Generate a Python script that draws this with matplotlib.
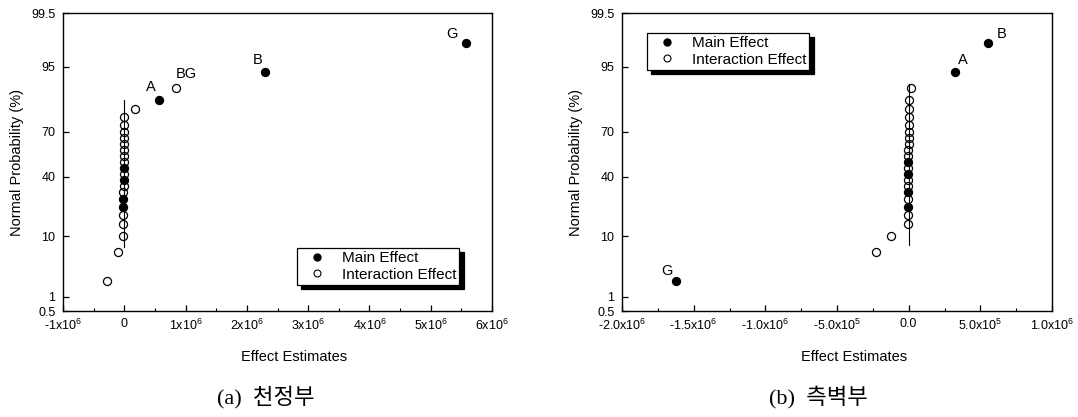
import math
import numpy as np
import matplotlib
matplotlib.use("Agg")
import matplotlib.pyplot as plt
from matplotlib.ticker import FixedLocator, NullLocator
from matplotlib.lines import Line2D

plt.rcParams['font.family'] = ['Liberation Sans', 'DejaVu Sans']
plt.rcParams['mathtext.fontset'] = 'custom'
plt.rcParams['mathtext.rm'] = 'Liberation Sans'
plt.rcParams['mathtext.it'] = 'Liberation Sans:italic'

# ---------------- data ----------------
# (a) 천정부 : effect estimates (sorted), normal probability (%), kind, label
a_effects = [-0.29e6, -0.11e6,
             -0.02e6, -0.02e6, -0.02e6, -0.015e6, -0.015e6, -0.015e6, -0.012e6, -0.012e6, -0.01e6,
             -0.01e6, -0.01e6, -0.008e6, -0.008e6, -0.006e6, -0.005e6, -0.004e6, -0.003e6, -0.002e6,
             0.17e6, 0.56e6, 0.84e6, 2.30e6, 5.57e6]
a_prob = [2, 6, 10, 14, 18, 22, 26, 30, 34, 38, 42, 46, 50, 54, 58, 62, 66, 70, 74, 78,
          82, 86, 90, 94, 98]
a_main = [0, 0, 0, 0, 0, 1, 1, 0, 0, 1, 0, 1, 0, 0, 0, 0, 0, 0, 0, 0,
          0, 1, 0, 1, 1]
a_labels = {21: "A", 22: "BG", 23: "B", 24: "G"}
a_label_offsets = {21: (-8, 13), 22: (11, 14), 23: (-8, 12), 24: (-14, 9)}
a_ref_line = (7, 86)

# (b) 측벽부
b_effects = [-1.62e6, -0.23e6, -0.125e6,
             -0.004e6, -0.004e6, -0.004e6, -0.004e6, -0.003e6, -0.003e6, -0.003e6, -0.003e6, -0.002e6,
             -0.002e6, -0.002e6, -0.002e6, -0.001e6, -0.001e6, -0.001e6, -0.001e6, -0.001e6, 0.0,
             0.0, 0.017e6, 0.325e6, 0.556e6]
b_prob = [2, 6, 10, 14, 18, 22, 26, 30, 34, 38, 42, 46, 50, 54, 58, 62, 66, 70, 74, 78,
          82, 86, 90, 94, 98]
b_main = [1, 0, 0, 0, 0, 1, 0, 1, 0, 0, 1, 0, 1, 0, 0, 0, 0, 0, 0, 0,
          0, 0, 0, 1, 1]
b_labels = {0: "G", 23: "A", 24: "B"}
b_label_offsets = {0: (-10, 10), 23: (8, 12), 24: (13, 9)}
b_ref_line = (7.5, 91)

y_ticks = [0.5, 1, 10, 40, 70, 95, 99.5]
y_ticklabels = ["0.5", "1", "10", "40", "70", "95", "99.5"]

a_xticks = [-1e6, 0, 1e6, 2e6, 3e6, 4e6, 5e6, 6e6]
a_xticklabels = ["-1x10$^6$", "0", "1x10$^6$", "2x10$^6$", "3x10$^6$", "4x10$^6$",
                 "5x10$^6$", "6x10$^6$"]
a_xminor = [-0.5e6, 0.5e6, 1.5e6, 2.5e6, 3.5e6, 4.5e6, 5.5e6]

b_xticks = [-2e6, -1.5e6, -1e6, -0.5e6, 0, 0.5e6, 1e6]
b_xticklabels = ["-2.0x10$^6$", "-1.5x10$^6$", "-1.0x10$^6$", "-5.0x10$^5$", "0.0",
                 "5.0x10$^5$", "1.0x10$^6$"]
b_xminor = [-1.75e6, -1.25e6, -0.75e6, -0.25e6, 0.25e6, 0.75e6]

captions = ["(a)  천정부", "(b)  측벽부"]

# ---------------- normal probability scale ----------------
_erf = np.vectorize(math.erf, otypes=[float])


def _cdf(z):
    return 0.5 * (1.0 + _erf(np.asarray(z, float) / math.sqrt(2.0)))


def prob_forward(p):
    p = np.clip(np.asarray(p, float) / 100.0, 1e-9, 1 - 1e-9)
    lo = np.full(p.shape, -8.0)
    hi = np.full(p.shape, 8.0)
    for _ in range(60):
        mid = 0.5 * (lo + hi)
        below = _cdf(mid) < p
        lo = np.where(below, mid, lo)
        hi = np.where(below, hi, mid)
    return 0.5 * (lo + hi)


def prob_inverse(z):
    return 100.0 * _cdf(z)


# ---------------- figure ----------------
W, H = 1078, 417
fig = plt.figure(figsize=(W / 100, H / 100), dpi=100)


def px_rect(x0, y0, x1, y1):
    return [x0 / W, 1 - y1 / H, (x1 - x0) / W, (y1 - y0) / H]


panels = [
    dict(rect=px_rect(63, 13, 492, 311), eff=a_effects, prob=a_prob, main=a_main,
         labels=a_labels, offs=a_label_offsets, ref=a_ref_line,
         xlim=(-1e6, 6e6), xt=a_xticks, xtl=a_xticklabels, xm=a_xminor,
         leg=(297, 248), cap=captions[0], capx=266, xlab_dx=17),
    dict(rect=px_rect(622, 13, 1052, 311), eff=b_effects, prob=b_prob, main=b_main,
         labels=b_labels, offs=b_label_offsets, ref=b_ref_line,
         xlim=(-2e6, 1e6), xt=b_xticks, xtl=b_xticklabels, xm=b_xminor,
         leg=(647, 33), cap=captions[1], capx=818, xlab_dx=17),
]

for P in panels:
    ax = fig.add_axes(P['rect'])
    ax.set_yscale('function', functions=(prob_forward, prob_inverse))
    eff = np.array(P['eff'])
    prob = np.array(P['prob'])
    main = np.array(P['main'], bool)

    ax.plot([0, 0], P['ref'], color='black', lw=0.8, zorder=3)
    ax.plot(eff[~main], prob[~main], 'o', ms=5.8, mfc='none', mec='black', mew=0.9,
            zorder=4, linestyle='none')
    ax.plot(eff[main], prob[main], 'o', ms=5.8, mfc='black', mec='black', mew=0.9,
            zorder=4, linestyle='none')

    for i, lab in P['labels'].items():
        dx, dy = P['offs'][i]
        ax.annotate(lab, (eff[i], prob[i]), xytext=(dx, dy), textcoords='offset pixels',
                    ha='center', va='center', fontsize=10.5)

    ax.set_xlim(*P['xlim'])
    ax.set_ylim(0.5, 99.5)
    ax.yaxis.set_major_locator(FixedLocator(y_ticks))
    ax.set_yticklabels(y_ticklabels)
    ax.yaxis.set_minor_locator(NullLocator())
    ax.xaxis.set_major_locator(FixedLocator(P['xt']))
    ax.set_xticklabels(P['xtl'])
    ax.xaxis.set_minor_locator(FixedLocator(P['xm']))

    ax.tick_params(which='both', direction='in', top=False, right=False, labelsize=9,
                   colors='black')
    ax.tick_params(axis='y', which='major', length=4, width=0.9, pad=5.5)
    ax.tick_params(axis='x', which='major', length=4, width=0.9, pad=5)
    ax.tick_params(axis='x', which='minor', length=2.5, width=0.8)
    for s in ax.spines.values():
        s.set_linewidth(1.0)
        s.set_color('black')

    ax.set_ylabel("Normal Probability (%)", fontsize=10.5, labelpad=5)
    # x label (slightly right of centre as in the original)
    bx = P['rect'][0] * W + P['rect'][2] * W / 2 + P['xlab_dx']
    fig.text(bx / W, 1 - 357 / H, "Effect Estimates", ha='center', va='center',
             fontsize=10.5)
    fig.text(P['capx'] / W, 1 - 397 / H, P['cap'], ha='center', va='center',
             fontsize=16, family=['Liberation Serif', 'Noto Sans CJK KR'])

    handles = [Line2D([], [], marker='o', ls='none', ms=5, mfc='black', mec='black'),
               Line2D([], [], marker='o', ls='none', ms=5, mfc='none', mec='black', mew=0.8)]
    lx, ly = P['leg']
    leg = ax.legend(handles, ["Main Effect", "Interaction Effect"], loc='upper left',
                    bbox_to_anchor=(lx / W, 1 - ly / H), bbox_transform=fig.transFigure,
                    borderaxespad=0, fancybox=False, framealpha=1, edgecolor='black',
                    fontsize=11, handlelength=2.2, handletextpad=0.5, borderpad=0.22,
                    labelspacing=0.15,
                    shadow={'ox': 3.2, 'oy': -3.2, 'color': 'black', 'alpha': 1})
    leg.get_frame().set_linewidth(0.9)

fig.savefig("out.png", dpi=100, facecolor='white')
